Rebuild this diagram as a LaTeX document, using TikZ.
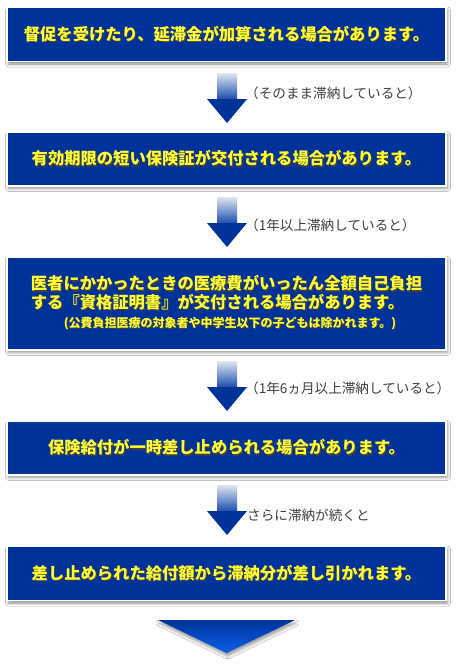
\documentclass[tikz,border=0pt]{standalone}
\usepackage{fontspec}
\setmainfont{Noto Sans CJK JP}
\usetikzlibrary{positioning, shadows.blur}

\definecolor{boxblue}{RGB}{0,51,153}
\definecolor{txtyellow}{RGB}{255,255,51}
\definecolor{notegray}{RGB}{64,64,64}
\definecolor{fadeblue}{RGB}{224,230,242}
\definecolor{midblue}{RGB}{35,85,175}
\definecolor{tipblue}{RGB}{10,95,235}

\pgfdeclareverticalshading{arrowfade}{100bp}{color(0bp)=(boxblue); color(49bp)=(boxblue); color(50bp)=(midblue); color(75bp)=(fadeblue); color(100bp)=(fadeblue)}

% yellow text with a dark drop shadow
\newcommand{\shtext}[1]{\makebox[0pt][l]{\kern1.2pt\raisebox{-1.5pt}{\textcolor{black!75}{#1}}}#1}

\begin{document}
\begin{tikzpicture}[
    x=1pt, y=-1pt,
    box/.style={draw=white, line width=1.5pt, fill=boxblue, minimum width=439pt, minimum height=54pt,
      inner sep=0pt, text=txtyellow, font=\fontsize{16.3}{17}\selectfont\bfseries,
      blur shadow={shadow xshift=1.5pt, shadow yshift=-2.5pt, shadow blur radius=3pt, shadow opacity=45}},
    note/.style={anchor=west, inner sep=0pt, text=notegray, font=\fontsize{13.6}{15}\selectfont},
    downarr/.pic={\shade[shading=arrowfade] (-10,0) -- (10,0) -- (10,26) -- (20,26) -- (0,50) -- (-20,26) -- (-10,26) -- cycle;}
  ]
  \path[use as bounding box, fill=white] (0,0) rectangle (457,665);

  % steps
  \node[box] (b1) at (226.5,34.5) {\shtext{督促を受けたり、延滞金が加算される場合があります。}};
  \node[box] (b2) at (226.5,159) {\shtext{有効期限の短い保険証が交付される場合があります。}};
  \node[box, minimum height=93pt, align=left] (b3) at (226.5,303.5)
    {\shtext{医者にかかったときの医療費がいったん全額自己負担}\\
     \shtext{する『資格証明書』が交付される場合があります。}\\[2pt]
     {\fontsize{12}{14}\selectfont\hspace{33pt}\shtext{(公費負担医療の対象者や中学生以下の子どもは除かれます。)}}};
  \node[box] (b4) at (226.5,448) {\shtext{保険給付が一時差し止められる場合があります。}};
  \node[box] (b5) at (226.5,573.5) {\shtext{差し止められた給付額から滞納分が差し引かれます。}};

  % arrows and notes
  \pic at (227,73) {downarr};
  \node[note] (n1) at (245,93) {（そのまま滞納していると）};
  \pic at (227,197) {downarr};
  \node[note] (n2) at (245,225) {（1年以上滞納していると）};
  \pic at (227,361) {downarr};
  \node[note] (n3) at (245,388) {（1年6ヵ月以上滞納していると）};
  \pic at (227,485) {downarr};
  \node[note] (n4) at (247,515) {さらに滞納が続くと};

  % final marker
  \shade[top color=boxblue, bottom color=tipblue,
    blur shadow={shadow xshift=1pt, shadow yshift=-3pt, shadow blur radius=3pt, shadow opacity=40}]
    (158,620) -- (295,620) -- (226.5,653) -- cycle;
\end{tikzpicture}
\end{document}
